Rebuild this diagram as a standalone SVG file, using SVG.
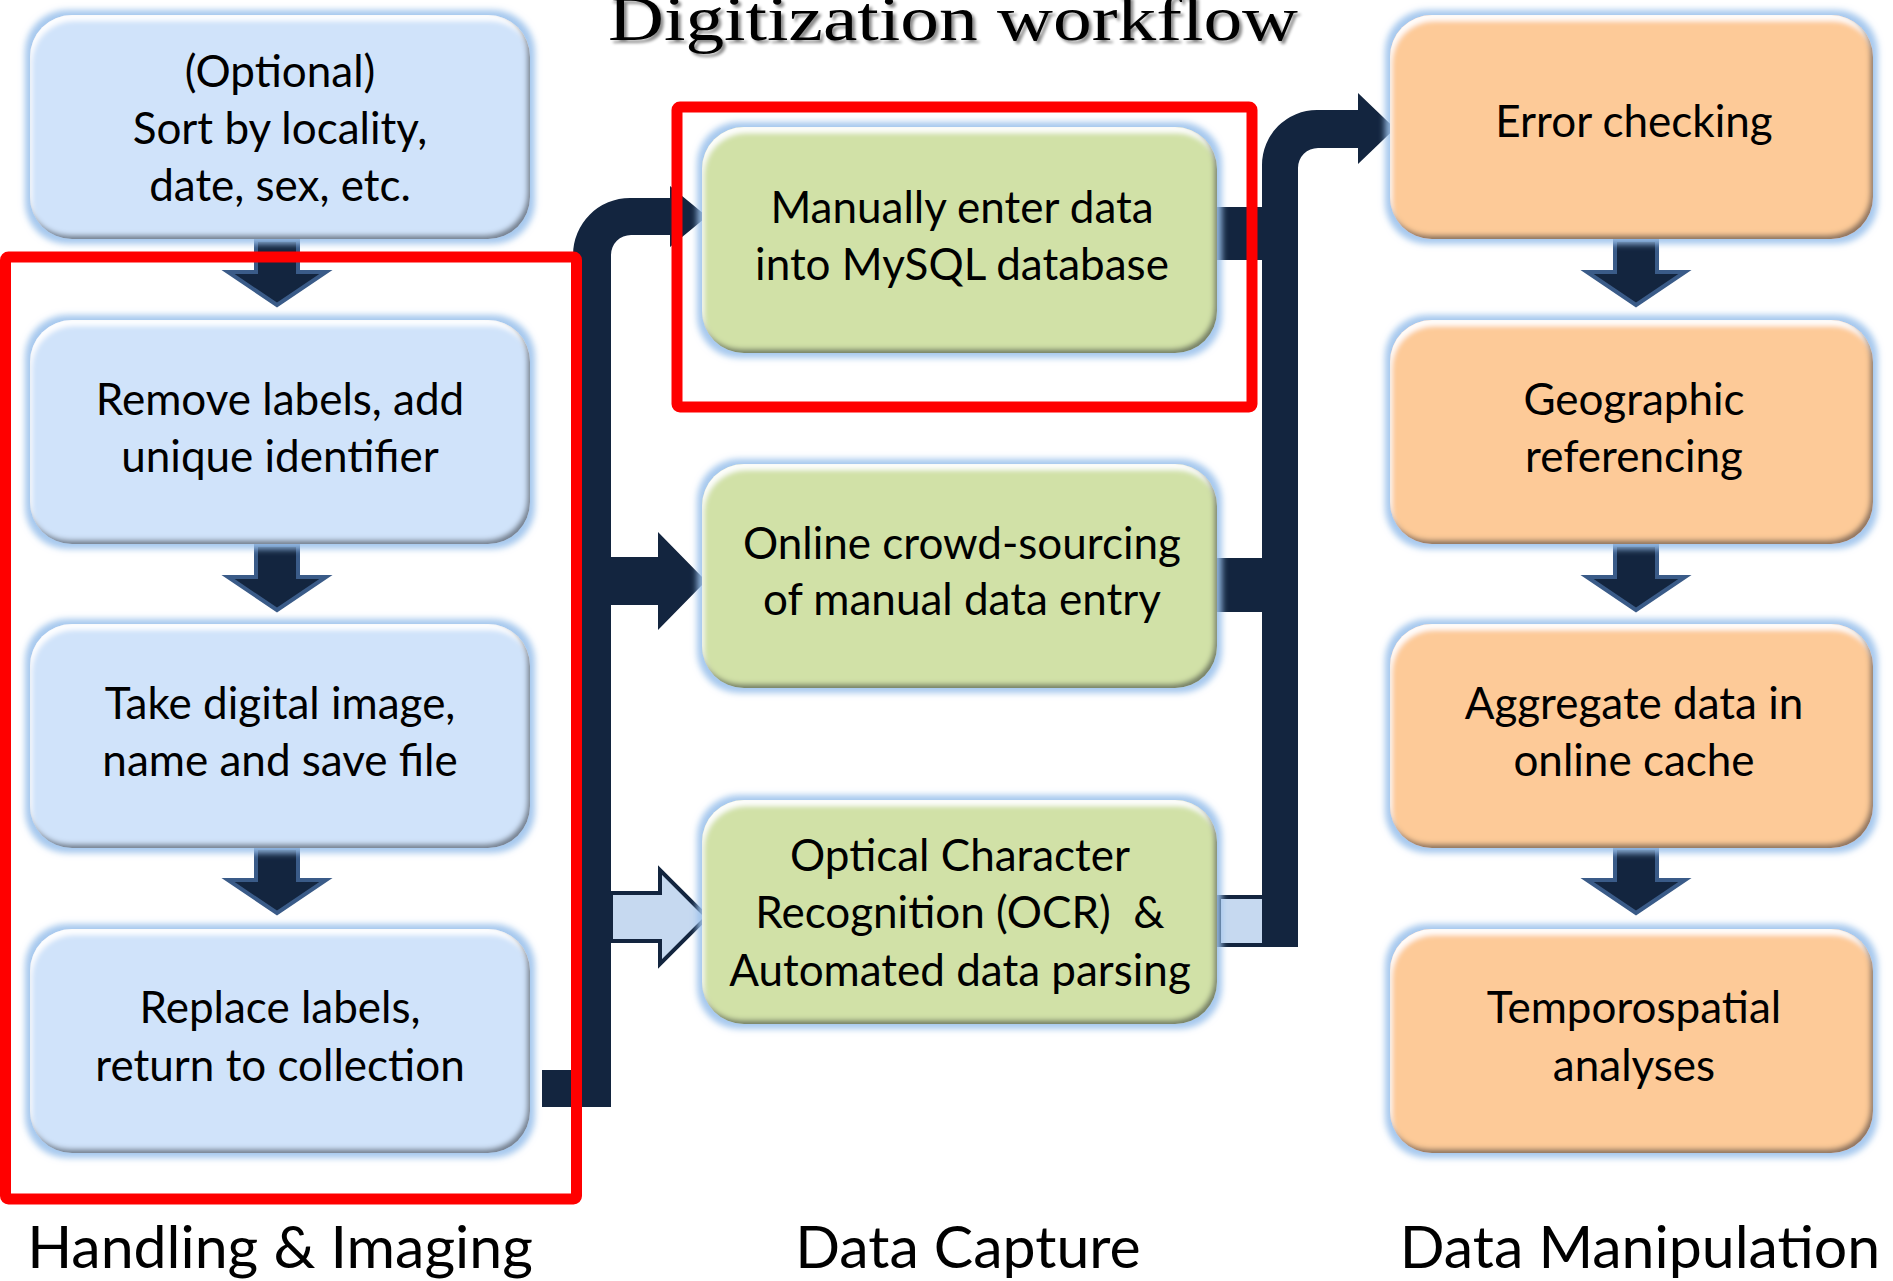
<svg xmlns="http://www.w3.org/2000/svg" width="1893" height="1281" viewBox="0 0 1893 1281">
<defs>
<filter id="box" x="-8%" y="-10%" width="116%" height="120%">
<feMorphology in="SourceAlpha" operator="dilate" radius="5" result="d"/>
<feGaussianBlur in="d" stdDeviation="3" result="db"/>
<feFlood flood-color="#9cc2ec" flood-opacity="0.9"/>
<feComposite in2="db" operator="in" result="glow"/>
<feGaussianBlur in="SourceAlpha" stdDeviation="2.5" result="b"/>
<feOffset in="b" dx="-3" dy="-4" result="o"/>
<feComposite in="SourceAlpha" in2="o" operator="out" result="inner"/>
<feFlood flood-color="#2e3440" flood-opacity="0.75"/>
<feComposite in2="inner" operator="in" result="shadow"/>
<feOffset in="b" dx="2" dy="6" result="o2"/>
<feComposite in="SourceAlpha" in2="o2" operator="out" result="inner2"/>
<feFlood flood-color="#ffffff" flood-opacity="0.95"/>
<feComposite in2="inner2" operator="in" result="hl"/>
<feMerge><feMergeNode in="glow"/><feMergeNode in="SourceGraphic"/><feMergeNode in="hl"/><feMergeNode in="shadow"/></feMerge>
</filter>
<filter id="tshadow" x="-5%" y="-30%" width="110%" height="160%">
<feGaussianBlur in="SourceAlpha" stdDeviation="1.5" result="b"/>
<feOffset in="b" dx="3" dy="3" result="o"/>
<feFlood flood-color="#000" flood-opacity="0.45"/>
<feComposite in2="o" operator="in" result="s"/>
<feMerge><feMergeNode in="s"/><feMergeNode in="SourceGraphic"/></feMerge>
</filter>
</defs>
<style>
.body{filter:url(#box);}
.blue .body{fill:#d0e3fa;}
.green .body{fill:#d1e1a7;}
.orange .body{fill:#fdca98;}
.node text{font-family:Lato,"Open Sans","Liberation Sans",sans-serif;font-size:44px;fill:#000;text-anchor:middle;}
.dn{fill:#13253f;stroke:#3a5b88;stroke-width:4;stroke-linejoin:miter;}
.dark{fill:#13253f;}
.light{fill:#c6d9f0;stroke:#13253f;stroke-width:4;}
.red{fill:none;stroke:#ff0000;stroke-width:11;}
.lbl{font-family:Lato,"Open Sans","Liberation Sans",sans-serif;font-size:59px;fill:#000;text-anchor:middle;}
.title{font-family:"Liberation Serif","Times New Roman",serif;font-size:64px;fill:#000;text-anchor:middle;filter:url(#tshadow);}
</style>
<rect width="1893" height="1281" fill="#fff"/>
<text class="title" x="953" y="40" textLength="690" lengthAdjust="spacingAndGlyphs">Digitization workflow</text>

<g id="connectors">
<path class="light" d="M611 893 H660 V870 L707 917 L660 964 V941 H611 Z"/>
<path class="dark" d="M611 557 H658 V532 L706 581 L658 630 V605 H611 Z"/>
<path class="dark" d="M542 1070 H573 V255 A57 57 0 0 1 630 198 H670 V186 L707 216.5 L670 247 V235 H631 A20 20 0 0 0 611 255 V1107 H542 Z"/>
<rect class="dark" x="1213" y="207" width="52" height="53"/>
<rect class="dark" x="1215" y="558" width="50" height="54"/>
<rect class="light" x="1219" y="897" width="45" height="48"/>
<path class="dark" d="M1262 947 V165 A55 55 0 0 1 1317 110 H1358 V93 L1395 128.5 L1358 164 V148 H1318 A20 20 0 0 0 1298 168 V947 Z"/>
<polygon class="dn" points="256,240 298,240 298,272 326,272 277,305 228,272 256,272"/>
<polygon class="dn" points="256,545 298,545 298,577 326,577 277,610 228,577 256,577"/>
<polygon class="dn" points="256,848 298,848 298,880 326,880 277,913 228,880 256,880"/>
<polygon class="dn" points="1615,240 1657,240 1657,272 1685,272 1636,305 1587,272 1615,272"/>
<polygon class="dn" points="1615,545 1657,545 1657,577 1685,577 1636,610 1587,577 1615,577"/>
<polygon class="dn" points="1615,848 1657,848 1657,880 1685,880 1636,913 1587,880 1615,880"/>
</g>

<g id="n-sort" class="node blue">
<rect class="body" x="30" y="15" width="500" height="224" rx="42"/>
<text x="280" y="87">(Optional)</text>
<text x="280" y="144">Sort by locality,</text>
<text x="280" y="201">date, sex, etc.</text>
</g>
<g id="n-remove" class="node blue">
<rect class="body" x="30" y="320" width="500" height="224" rx="42"/>
<text x="280" y="415">Remove labels, add</text>
<text x="280" y="472">unique identifier</text>
</g>
<g id="n-image" class="node blue">
<rect class="body" x="30" y="624" width="500" height="224" rx="42"/>
<text x="280" y="719">Take digital image,</text>
<text x="280" y="776">name and save file</text>
</g>
<g id="n-replace" class="node blue">
<rect class="body" x="30" y="929" width="500" height="224" rx="42"/>
<text x="280" y="1023">Replace labels,</text>
<text x="280" y="1081">return to collection</text>
</g>

<g id="n-manual" class="node green">
<rect class="body" x="702" y="127" width="515" height="226" rx="42"/>
<text x="962" y="223">Manually enter data</text>
<text x="962" y="280">into MySQL database</text>
</g>
<g id="n-crowd" class="node green">
<rect class="body" x="702" y="464" width="515" height="224" rx="42"/>
<text x="962" y="559">Online crowd-sourcing</text>
<text x="962" y="615">of manual data entry</text>
</g>
<g id="n-ocr" class="node green">
<rect class="body" x="702" y="800" width="515" height="224" rx="42"/>
<text x="960" y="871">Optical Character</text>
<text x="960" y="928">Recognition (OCR)&#160; &amp;</text>
<text x="960" y="986">Automated data parsing</text>
</g>

<g id="n-error" class="node orange">
<rect class="body" x="1390" y="15" width="483" height="224" rx="42"/>
<text x="1634" y="137">Error checking</text>
</g>
<g id="n-geo" class="node orange">
<rect class="body" x="1390" y="320" width="483" height="224" rx="42"/>
<text x="1634" y="415">Geographic</text>
<text x="1634" y="472">referencing</text>
</g>
<g id="n-aggregate" class="node orange">
<rect class="body" x="1390" y="624" width="483" height="224" rx="42"/>
<text x="1634" y="719">Aggregate data in</text>
<text x="1634" y="776">online cache</text>
</g>
<g id="n-temporo" class="node orange">
<rect class="body" x="1390" y="929" width="483" height="224" rx="42"/>
<text x="1634" y="1023">Temporospatial</text>
<text x="1634" y="1081">analyses</text>
</g>

<g id="highlights">
<rect class="red" x="5.5" y="257" width="571" height="942" rx="3"/>
<rect class="red" x="677" y="107" width="575" height="300" rx="3"/>
</g>

<g id="labels">
<text class="lbl" x="280" y="1268">Handling &amp; Imaging</text>
<text class="lbl" x="968" y="1268">Data Capture</text>
<text class="lbl" x="1640" y="1268">Data Manipulation</text>
</g>
</svg>
